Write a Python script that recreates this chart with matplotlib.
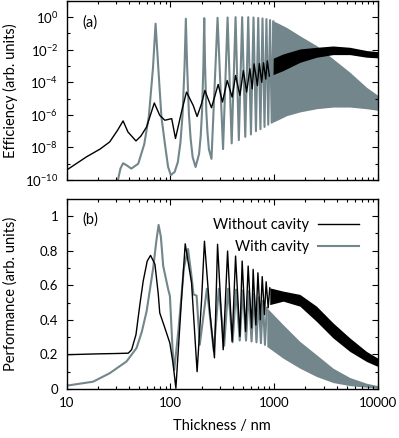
import matplotlib
matplotlib.use("Agg")
import matplotlib.pyplot as plt
import numpy as np
from matplotlib.ticker import LogLocator, FixedLocator, NullFormatter, FuncFormatter

plt.rcParams["font.family"] = ["Lato", "DejaVu Sans"]
plt.rcParams["mathtext.fontset"] = "custom"
plt.rcParams["mathtext.rm"] = "Lato"
plt.rcParams["mathtext.it"] = "Lato:italic"

BLACK = "#000000"
GREY = "#72868b"

# ---- (a) efficiency, values are log10(efficiency) ----
# without cavity, resolved part
a_wo_t = [10, 15.6, 21, 26, 31, 35, 39, 46.6, 52, 59, 70, 79, 88.5, 103, 112, 128, 143,
          166, 181, 200, 215, 249, 289, 318, 353, 394, 425, 468, 505, 543, 584, 615, 641,
          690, 720, 760, 790, 830, 860, 900]
a_wo_log = [-9.39, -8.57, -8.1, -7.66, -6.94, -6.37, -7.05, -7.6, -7.3, -6.74, -5.27, -6.03,
            -6.33, -6.23, -7.45, -5.82, -4.6, -5.42, -6.1, -5.3, -4.5, -5.56, -4.13, -5.21,
            -3.89, -4.91, -3.58, -4.8, -3.28, -4.6, -3.17, -4.4, -2.87, -4.2, -2.85, -4.0,
            -2.8, -3.8, -2.68, -3.62]
# without cavity, dense band (envelopes)
a_wo_band_t = [900, 1220, 1780, 2570, 3700, 5370, 7780, 10000]
a_wo_band_hi = [-2.62, -2.26, -1.95, -1.85, -1.77, -1.85, -2.05, -2.12]
a_wo_band_lo = [-3.62, -3.28, -2.77, -2.46, -2.3, -2.3, -2.46, -2.5]

# with cavity, resolved part
a_w_t = [30, 33, 35, 38, 42, 49, 56, 62, 68, 72, 76.4, 82, 88.5, 95, 101, 110, 118, 125,
         131, 137, 141, 145, 151, 157, 164, 175, 189, 196, 202, 208, 212, 216, 222, 228,
         235, 249, 285, 322, 356, 390, 425, 457, 492, 527, 563, 598, 633, 668, 703, 738,
         773, 808, 843, 878, 913, 948, 983]
a_w_log = [-10.5, -9.3, -8.97, -9.1, -9.3, -9.0, -7.8, -6.1, -3.1, -0.4, -3.07, -6.13,
           -7.76, -9.19, -9.7, -9.5, -8.9, -7.7, -6.0, -3.0, -0.1, -3.0, -6.0, -7.5, -8.6,
           -9.2, -8.4, -7.3, -5.8, -3.0, -0.06, -3.0, -5.8, -7.1, -8.1, -8.7, -0.04, -8.1,
           -0.02, -7.75, 0.0, -7.55, 0.0, -7.35, 0.0, -7.2, -0.02, -7.0, -0.05, -6.88,
           -0.08, -6.74, -0.12, -6.6, -0.18, -6.48, -0.26]
a_w_band_t = [948, 1054, 1318, 1770, 2570, 3700, 5370, 7760, 10000]
a_w_band_hi = [-0.2, -0.32, -0.63, -1.14, -1.75, -2.56, -3.38, -4.3, -4.8]
a_w_band_lo = [-6.48, -6.35, -6.05, -5.82, -5.62, -5.52, -5.52, -5.62, -5.72]

# ---- (b) performance ----
b_wo_t = [10, 20, 30, 39.3, 42.3, 46.6, 50.8, 54.7, 59.8, 64.4, 71, 76.4, 79, 88.5, 98.8,
          106, 113, 128, 139, 160, 181, 200, 213, 240, 266, 285, 323, 356, 394, 425, 468,
          492, 531, 562, 607, 628, 667, 698, 737, 768, 807, 838, 877, 908]
b_wo = [0.198, 0.203, 0.205, 0.207, 0.227, 0.314, 0.488, 0.624, 0.74, 0.773, 0.721, 0.55,
        0.44, 0.353, 0.266, 0.149, 0.004, 0.517, 0.84, 0.614, 0.1, 0.517, 0.855, 0.45,
        0.18, 0.837, 0.227, 0.798, 0.275, 0.769, 0.304, 0.74, 0.333, 0.711, 0.353, 0.692,
        0.37, 0.672, 0.40, 0.65, 0.43, 0.62, 0.47, 0.585]
b_wo_band_t = [908, 1222, 1771, 2560, 3700, 5370, 7770, 10000]
b_wo_band_hi = [0.585, 0.566, 0.547, 0.479, 0.382, 0.295, 0.217, 0.178]
b_wo_band_lo = [0.488, 0.508, 0.479, 0.391, 0.295, 0.217, 0.159, 0.13]

b_w_t = [10, 18, 26, 37.8, 47.2, 53, 59, 68.4, 73, 77, 81, 85.3, 95.3, 99, 105, 109, 120,
         135, 148, 160, 167, 179, 192, 225, 262, 293, 330, 360, 398, 430, 466, 500, 536,
         570, 606, 640, 676, 710, 746, 780, 816, 850]
b_w = [0.019, 0.042, 0.091, 0.159, 0.237, 0.33, 0.449, 0.702, 0.85, 0.949, 0.88, 0.711,
       0.576, 0.537, 0.227, 0.11, 0.35, 0.7, 0.81, 0.65, 0.547, 0.54, 0.256, 0.58, 0.22,
       0.58, 0.25, 0.58, 0.27, 0.575, 0.28, 0.57, 0.28, 0.565, 0.275, 0.55, 0.27, 0.53,
       0.265, 0.51, 0.255, 0.47]
b_w_band_t = [850, 1220, 1771, 2560, 3700, 5370, 7770, 10000]
b_w_band_hi = [0.47, 0.372, 0.275, 0.198, 0.12, 0.066, 0.033, 0.019]
b_w_band_lo = [0.246, 0.178, 0.12, 0.072, 0.037, 0.019, 0.01, 0.004]


def pow10(v):
    return 10.0 ** np.asarray(v)


def style_axis(ax):
    ax.set_xscale("log")
    ax.set_xlim(10, 10000)
    ax.tick_params(which="both", direction="in", top=True, right=True, width=0.8,
                   labelsize=9.5, pad=6)
    ax.tick_params(which="major", length=4)
    ax.tick_params(which="minor", length=2.2)
    for s in ax.spines.values():
        s.set_linewidth(1.0)


fig = plt.figure(figsize=(3.99, 4.38), dpi=100)
ax1 = fig.add_axes([0.167, 0.589, 0.780, 0.409])
ax2 = fig.add_axes([0.167, 0.112, 0.780, 0.434])

# panel (a)
ax1.fill_between(a_w_band_t, pow10(a_w_band_lo), pow10(a_w_band_hi), color=GREY, lw=0)
ax1.plot(a_w_t, pow10(a_w_log), color=GREY, lw=1.5)
ax1.fill_between(a_wo_band_t, pow10(a_wo_band_lo), pow10(a_wo_band_hi), color=BLACK, lw=0)
ax1.plot(a_wo_t, pow10(a_wo_log), color=BLACK, lw=1.0)
ax1.set_yscale("log")
ax1.set_ylim(1e-10, 1e1)
style_axis(ax1)
ax1.yaxis.set_major_locator(FixedLocator([10.0 ** k for k in range(-10, 1, 2)]))
ax1.yaxis.set_minor_locator(FixedLocator([10.0 ** k for k in range(-9, 2, 2)]))
ax1.yaxis.set_major_formatter(FuncFormatter(lambda v, p: r"$10^{%d}$" % round(np.log10(v))))
ax1.yaxis.set_minor_formatter(NullFormatter())
ax1.xaxis.set_major_locator(LogLocator(base=10))
ax1.xaxis.set_minor_locator(LogLocator(base=10, subs=np.arange(2, 10)))
ax1.xaxis.set_major_formatter(NullFormatter())
ax1.xaxis.set_minor_formatter(NullFormatter())
ax1.set_ylabel("Efficiency (arb. units)", fontsize=10.5)
ax1.yaxis.set_label_coords(-0.157, 0.5)
ax1.text(0.052, 0.88, "(a)", transform=ax1.transAxes, fontsize=10.5, va="center")

# panel (b)
ax2.fill_between(b_w_band_t, b_w_band_lo, b_w_band_hi, color=GREY, lw=0)
ax2.plot(b_w_t, b_w, color=GREY, lw=1.5, label="With cavity")
ax2.fill_between(b_wo_band_t, b_wo_band_lo, b_wo_band_hi, color=BLACK, lw=0)
ax2.plot(b_wo_t, b_wo, color=BLACK, lw=1.0, label="Without cavity")
ax2.set_ylim(0, 1.1)
style_axis(ax2)
ax2.yaxis.set_major_locator(FixedLocator([0, 0.2, 0.4, 0.6, 0.8, 1.0]))
ax2.yaxis.set_minor_locator(FixedLocator([0.1, 0.3, 0.5, 0.7, 0.9]))
ax2.yaxis.set_major_formatter(FuncFormatter(lambda v, p: "%g" % v))
ax2.xaxis.set_major_locator(LogLocator(base=10))
ax2.xaxis.set_minor_locator(LogLocator(base=10, subs=np.arange(2, 10)))
ax2.xaxis.set_major_formatter(FuncFormatter(lambda v, p: "%d" % round(v)))
ax2.xaxis.set_minor_formatter(NullFormatter())
ax2.set_ylabel("Performance (arb. units)", fontsize=10.5)
ax2.yaxis.set_label_coords(-0.157, 0.5)
ax2.set_xlabel("Thickness / nm", fontsize=10.5, labelpad=7)
ax2.text(0.052, 0.89, "(b)", transform=ax2.transAxes, fontsize=10.5, va="center")

handles, labels = ax2.get_legend_handles_labels()
ax2.legend(handles[::-1], labels[::-1], loc="upper right", frameon=False, markerfirst=False,
           fontsize=10.5, handlelength=2.8, borderaxespad=0.9, labelspacing=0.55,
           handletextpad=0.6)

fig.savefig("out.png", dpi=100)
